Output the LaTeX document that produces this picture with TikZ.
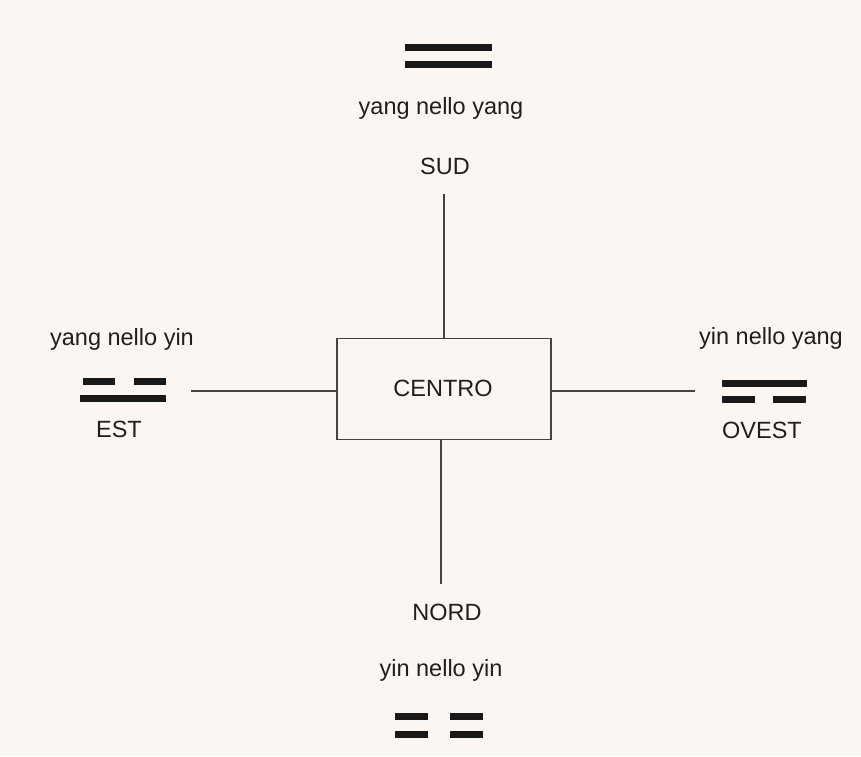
\documentclass[tikz,border=0pt]{standalone}
\usepackage{fontspec}
\setmainfont{Liberation Sans}
\definecolor{bgc}{RGB}{251,246,242}
\definecolor{txtc}{RGB}{34,30,30}
\definecolor{linec}{RGB}{70,66,66}
\begin{document}
\begin{tikzpicture}[x=1pt,y=-1pt,
  lbl/.style={font=\fontsize{23.5}{28}\selectfont, text=txtc, inner sep=0pt, anchor=base},
  bar/.style={line width=7pt, draw=black!90},
  conn/.style={draw=linec, line width=1.4pt},
  centrobox/.style={draw=linec, line width=1.4pt, minimum width=214pt, minimum height=101pt, inner sep=0pt}]
\fill[bgc] (0,0) rectangle (861,756);
\useasboundingbox (0,0) rectangle (861,756);

% SUD
\draw[bar] (405,47) -- (492,47);
\draw[bar] (405,64) -- (492,64);
\node[lbl] (yy) at (441,114) {yang nello yang};
\node[lbl] (sud) at (445,174) {SUD};
\coordinate (sudend) at (444,194);

% CENTRO
\node[centrobox] (centro) at (444,389) {};
\node[lbl] (centrotxt) at (443,396) {CENTRO};

% EST
\node[lbl] (yyin) at (122,345) {yang nello yin};
\draw[bar] (83,381) -- (115,381);
\draw[bar] (134,381) -- (166,381);
\draw[bar] (80,398) -- (166,398);
\node[lbl] (est) at (119,437) {EST};
\coordinate (estend) at (191,391);

% OVEST
\node[lbl] (yinyang) at (771,344) {yin nello yang};
\draw[bar] (722,383) -- (807,383);
\draw[bar] (722,399) -- (755,399);
\draw[bar] (773,399) -- (806,399);
\node[lbl] (ovest) at (762,438) {OVEST};
\coordinate (ovestend) at (695,391);

% NORD
\coordinate (nordend) at (441,584);
\node[lbl] (nord) at (447,620) {NORD};
\node[lbl] (yinyin) at (441,676) {yin nello yin};
\draw[bar] (395,716) -- (428,716);
\draw[bar] (450,716) -- (483,716);
\draw[bar] (395,734) -- (428,734);
\draw[bar] (450,734) -- (483,734);

% connectors
\draw[conn] (sudend) -- (centro.north -| sudend);
\draw[conn] (centro.south -| nordend) -- (nordend);
\draw[conn] (estend) -- (centro.west |- estend);
\draw[conn] (centro.east |- ovestend) -- (ovestend);
\end{tikzpicture}
\end{document}
